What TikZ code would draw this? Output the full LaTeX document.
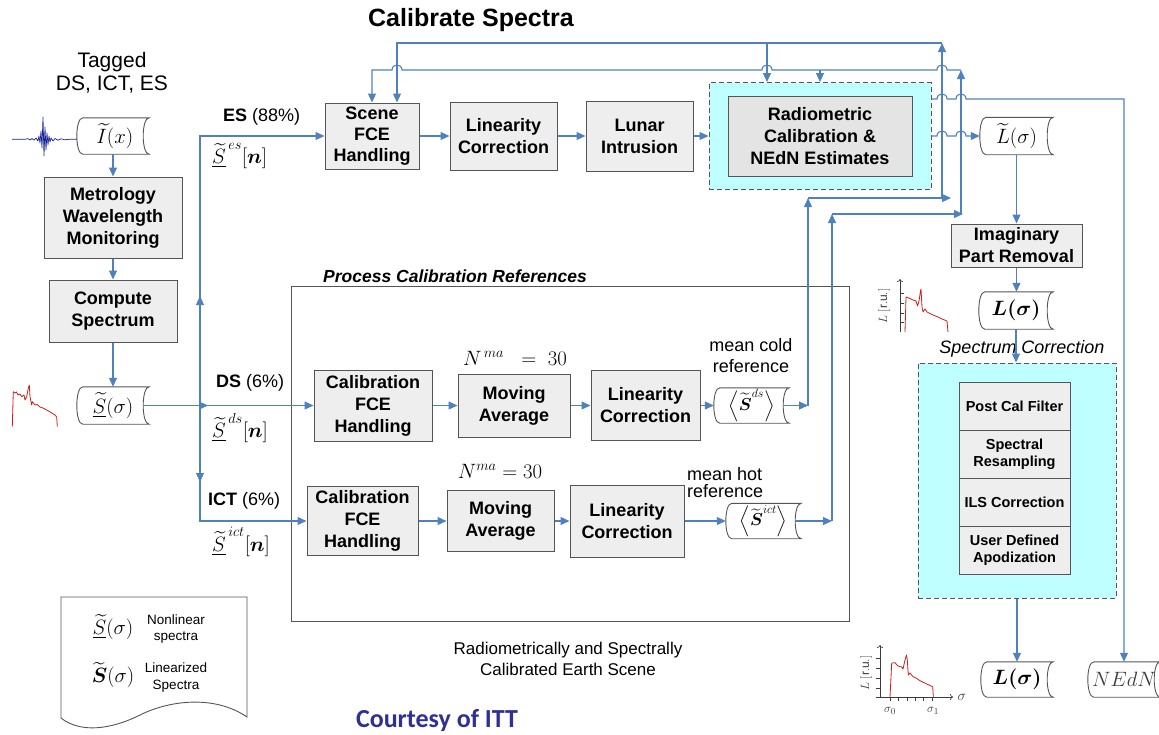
\documentclass[tikz,border=0pt]{standalone}
\usepackage{amsmath}
\usepackage{fontspec}
\setmainfont{Liberation Sans}
\newfontfamily\logofont{Carlito}
\usetikzlibrary{arrows.meta}

\definecolor{lineblue}{RGB}{79,129,189}
\definecolor{boxedge}{RGB}{85,85,85}
\definecolor{boxfill}{RGB}{238,238,238}
\definecolor{radfill}{RGB}{228,228,228}
\definecolor{cyanfill}{RGB}{192,255,255}
\definecolor{specred}{RGB}{205,30,30}
\definecolor{wavenavy}{RGB}{25,35,150}
\definecolor{ittblue}{RGB}{46,49,146}
\definecolor{axisgray}{RGB}{60,60,60}

% outline of a stored-data symbol around a named node:
% both short sides are arcs bowing to the left
\newcommand\docoutline[1]{%
  \draw[docline] ([xshift=6pt]#1.north west) -- (#1.north east)
    .. controls ([xshift=-8pt]#1.north east) and ([xshift=-8pt]#1.south east) .. (#1.south east)
    -- ([xshift=6pt]#1.south west)
    .. controls ([xshift=-2pt]#1.south west) and ([xshift=-2pt]#1.north west) .. ([xshift=6pt]#1.north west);}

\begin{document}
\begin{tikzpicture}[x=1pt,y=-1pt,
  conn/.style={draw=lineblue, line width=1.1pt},
  flow/.style={conn, -{Triangle[length=9pt,width=8pt]}},
  proc/.style={draw=boxedge, fill=boxfill, line width=1pt, align=center,
    inner sep=0pt, font=\bfseries\fontsize{18}{22}\selectfont},
  subproc/.style={proc, font=\bfseries\fontsize{14.5}{17}\selectfont,
    minimum width=111, minimum height=48},
  dashbox/.style={draw=boxedge, dash pattern=on 5pt off 3pt, fill=cyanfill,
    line width=1pt, inner sep=0pt},
  datadoc/.style={inner sep=0pt, minimum width=72, minimum height=36,
    font=\fontsize{21}{24}\selectfont},
  docline/.style={draw=boxedge, line width=0.9pt},
  txt/.style={font=\fontsize{18}{21}\selectfont, align=center, inner sep=0pt},
  specline/.style={draw=specred, line width=0.8pt, line join=round},
  plotaxis/.style={draw=axisgray, line width=0.7pt},
  axtip/.style={-{To[length=3pt,width=6pt]}},
]
\useasboundingbox (0,0) rectangle (1159,734);

% ---------- titles ----------
\node[font=\bfseries\fontsize{25}{30}\selectfont] (title) at (471,20) {Calibrate Spectra};
\node[txt, font=\fontsize{21}{23}\selectfont] (tagged) at (112,73) {Tagged\\DS, ICT, ES};

% ---------- left column ----------
\node[datadoc] (idoc) at (113,136) {\,$\widetilde{I}(x)$};
\docoutline{idoc}
\node[proc, minimum width=138, minimum height=81] (metro) at (113,217.5) {Metrology\\Wavelength\\Monitoring};
\node[proc, minimum width=128, minimum height=62] (compute) at (113,311) {Compute\\Spectrum};
\node[datadoc, minimum height=37] (sdoc) at (113,405.5) {$\underline{\widetilde{S}}(\sigma)$};
\docoutline{sdoc}

% interferogram trace
\draw[wavenavy, line width=0.7pt, line join=round] (12,139.3) -- (25,139.3) -- (28,138.6) -- (30,140) -- (32,138.5) -- (34,140.2) -- (36,138) -- (38,141) -- (39,136) -- (40,143) -- (41,131) -- (42,148) -- (43,117) -- (44,156) -- (45,127) -- (46,150) -- (47,133) -- (48,145) -- (49,136) -- (50,142) -- (51,138) -- (53,141) -- (55,138.5) -- (58,140.2) -- (61,138.8) -- (65,139.8) -- (70,139.2) -- (77,139.3);
% uncalibrated spectrum
\draw[specline] (12.3,426.7) -- (13.3,391.7) -- (15,393) -- (16.5,392) -- (18,395) -- (20,394) -- (21.7,396.7) -- (24,395) -- (25,400) -- (26.7,396.7) -- (28.3,388) -- (29.3,385) -- (30,396.7) -- (31.7,405) -- (32.3,401.7) -- (35,405) -- (37,404.5) -- (40,407) -- (43,408) -- (46.7,410) -- (51,412.5) -- (55,415) -- (56.7,417) -- (57.3,426.7);

% ---------- earth scene row ----------
\node[proc, font=\bfseries\fontsize{18}{21}\selectfont, minimum width=94, minimum height=66] (scene) at (372,136) {Scene\\FCE\\Handling};
\node[proc, minimum width=107, minimum height=68] (linA) at (503.5,136) {Linearity\\Correction};
\node[proc, minimum width=107, minimum height=70] (lunar) at (639.5,136) {Lunar\\Intrusion};
\node[dashbox, minimum width=222, minimum height=107] (raddash) at (820,136) {};
\node[proc, fill=radfill, minimum width=184, minimum height=80] (rad) at (820,136) {Radiometric\\Calibration \&\\NEdN Estimates};
\node[datadoc, minimum width=73, minimum height=37] (ltdoc) at (1016.5,136) {$\widetilde{L}(\sigma)$};
\docoutline{ltdoc}

\node[font=\fontsize{18}{21}\selectfont, anchor=west, inner sep=0pt] (eslab) at (223,117) {\textbf{ES} (88\%)};
\node[font=\fontsize{21}{24}\selectfont, anchor=west, inner sep=0pt] (essig) at (212,156) {$\underline{\widetilde{S}}^{\,es}[\boldsymbol{n}]$};

% ---------- calibration references ----------
\node[draw=boxedge, line width=1pt, minimum width=558, minimum height=335, inner sep=0pt] (procref) at (570,453.5) {};
\node[font=\bfseries\itshape\fontsize{17.5}{20}\selectfont, anchor=west, inner sep=0pt] (proctitle) at (323,276) {Process Calibration References};

\node[proc, minimum width=118, minimum height=71] (calA) at (373,405.5) {Calibration\\FCE\\Handling};
\node[proc, minimum width=112, minimum height=63] (maA) at (514,405.5) {Moving\\Average};
\node[proc, minimum width=109, minimum height=70] (linB) at (645.5,405.5) {Linearity\\Correction};
\node[datadoc, minimum width=75, minimum height=35, font=\fontsize{18}{22}\selectfont] (dsdoc) at (751.5,405.5) {$\left\langle\widetilde{\boldsymbol{S}}^{ds}\right\rangle$};
\docoutline{dsdoc}

\node[proc, minimum width=111, minimum height=69] (calB) at (362.5,521) {Calibration\\FCE\\Handling};
\node[proc, minimum width=107, minimum height=61] (maB) at (500.5,521) {Moving\\Average};
\node[proc, minimum width=114, minimum height=72] (linC) at (627,521) {Linearity\\Correction};
\node[datadoc, minimum width=75, minimum height=35, font=\fontsize{18}{22}\selectfont] (ictdoc) at (763.5,521) {$\left\langle\widetilde{\boldsymbol{S}}^{ict}\right\rangle$};
\docoutline{ictdoc}

\node[font=\fontsize{21}{24}\selectfont] (nmaA) at (515,358) {$N^{\,ma}\;\;=\;30$};
\node[font=\fontsize{21}{24}\selectfont] (nmaB) at (500,471) {$N^{ma}=30$};
\node[txt] (coldlab) at (751,356) {mean cold\\reference};
\node[txt, font=\fontsize{18}{17}\selectfont, align=left, anchor=west] (hotlab) at (687,483) {mean hot\\reference};

\node[font=\fontsize{18}{21}\selectfont, anchor=west, inner sep=0pt] (dslab) at (216,383) {\textbf{DS} (6\%)};
\node[font=\fontsize{21}{24}\selectfont, anchor=west, inner sep=0pt] (dssig) at (212,428) {$\underline{\widetilde{S}}^{\,ds}[\boldsymbol{n}]$};
\node[font=\fontsize{18}{21}\selectfont, anchor=west, inner sep=0pt] (ictlab) at (208,501) {\textbf{ICT} (6\%)};
\node[font=\fontsize{21}{24}\selectfont, anchor=west, inner sep=0pt] (ictsig) at (212,542) {$\underline{\widetilde{S}}^{\,ict}[\boldsymbol{n}]$};

% ---------- right column ----------
\node[proc, minimum width=131, minimum height=43] (imag) at (1016.5,245.5) {Imaginary\\Part Removal};
\node[datadoc, minimum width=74, minimum height=37] (ldoc) at (1016,310.5) {$\boldsymbol{L(\sigma)}$};
\docoutline{ldoc}
\node[font=\itshape\fontsize{18}{21}\selectfont] (sctitle) at (1022,349) {Spectrum Correction};
\node[dashbox, minimum width=198, minimum height=235] (scdash) at (1017,480.5) {};
\node[subproc] (pcf) at (1014.5,406) {Post Cal Filter};
\node[subproc] (resamp) at (1014.5,454) {Spectral\\Resampling};
\node[subproc] (ils) at (1014.5,502) {ILS Correction};
\node[subproc] (apod) at (1014.5,550) {User Defined\\Apodization};
\node[datadoc, minimum height=35] (lbdoc) at (1017,679.5) {$\boldsymbol{L(\sigma)}$};
\docoutline{lbdoc}
\node[datadoc, minimum height=35] (nedn) at (1124,679.5) {\color{axisgray}$NEdN$};
\docoutline{nedn}

% calibrated spectrum sketch beside L(sigma)
\draw[plotaxis, axtip] (900,332) -- (900,279);
\foreach \yy in {293,303,313,322} \draw[plotaxis] (900,\yy) -- (904,\yy);
\draw[specline] (905,332) -- (906,297) -- (910,298.5) -- (913,300) -- (916,301) -- (917.5,306) -- (919,301) -- (920.5,291) -- (921,289) -- (922,307) -- (923,312) -- (925,309) -- (927,312) -- (930,313.5) -- (933,315) -- (938,317) -- (942,319) -- (947,321) -- (948,332);
\node[rotate=90, font=\fontsize{12}{14}\selectfont, text=axisgray] (laxA) at (884,306) {$L\ [\mathrm{r.u.}]$};

% calibrated spectrum sketch with band limits
\draw[plotaxis, axtip] (880,697) -- (880,645);
\draw[plotaxis, axtip] (876,697) -- (953,697);
\foreach \yy in {658,668,678,688} \draw[plotaxis] (876,\yy) -- (880,\yy);
\foreach \xx in {890,898,907,915,923,932} \draw[plotaxis] (\xx,697) -- (\xx,701);
\draw[specline] (890,697) -- (891.7,663) -- (895,662.7) -- (898,666) -- (901.7,667) -- (903,669) -- (905,660) -- (906.5,655) -- (907.3,660) -- (908.3,675) -- (910,673) -- (913,676.7) -- (916,678) -- (920,680.7) -- (926.7,684) -- (932.7,686.7) -- (933.3,697);
\node[rotate=90, font=\fontsize{12}{14}\selectfont, text=axisgray] (laxB) at (866,673) {$L\ [\mathrm{r.u.}]$};
\node[font=\fontsize{14}{16}\selectfont, text=axisgray] (sigx) at (962,697) {$\sigma$};
\node[font=\fontsize{13}{15}\selectfont, text=axisgray] (sig0) at (890,711) {$\sigma_0$};
\node[font=\fontsize{13}{15}\selectfont, text=axisgray] (sig1) at (933,711) {$\sigma_1$};

% ---------- legend ----------
\draw[docline] (61,597) -- (247,597) -- (247,717) .. controls (215,695) and (170,700) .. (140,715) .. controls (110,730) and (80,733) .. (61,718) -- cycle;
\node[font=\fontsize{21}{24}\selectfont] (legA) at (113,627) {$\underline{\widetilde{S}}(\sigma)$};
\node[txt, font=\fontsize{13.5}{16}\selectfont] (legAt) at (176,629) {Nonlinear\\spectra};
\node[font=\fontsize{21}{24}\selectfont] (legB) at (113,675) {$\widetilde{\boldsymbol{S}}(\sigma)$};
\node[txt, font=\fontsize{13.5}{17}\selectfont] (legBt) at (176,677) {Linearized\\Spectra};

\node[txt, font=\fontsize{17}{21}\selectfont] (outlab) at (568,659) {Radiometrically and Spectrally\\Calibrated Earth Scene};
\node[font=\logofont\bfseries\fontsize{26}{30}\selectfont, text=ittblue] (itt) at (437,720) {Courtesy of ITT};

% ---------- connectors ----------
\draw[flow] (idoc.south) -- (metro.north);
\draw[flow] (metro.south) -- (compute.north);
\draw[flow] (compute.south) -- (sdoc.north);

\coordinate (split) at (200,405.5);
\coordinate (esturn) at (200,136);
\coordinate (ictturn) at (200,521);
\draw[flow] ([xshift=-6pt]sdoc.east) -- (208,405.5);
\draw[flow] (split) -- (calA.west);
\draw[flow] (split) -- (200,296);
\draw[flow] (200,300) -- (esturn) -- (scene.west);
\draw[flow] (split) -- (200,482);
\draw[flow] (200,478) -- (ictturn) -- (calB.west);

\draw[flow] (scene) -- (linA);
\draw[flow] (linA) -- (lunar);
\draw[flow] (lunar) -- (raddash);

\draw[flow] (calA) -- (maA);
\draw[flow] (maA) -- (linB);
\draw[flow] (linB) -- (dsdoc);
\draw[flow] (calB) -- (maB);
\draw[flow] (maB) -- (linC);
\draw[flow] (linC) -- (ictdoc);

% mean cold reference feedback
\coordinate (coldA) at (808,405.5);
\coordinate (coldB) at (808,198);
\coordinate (coldC) at (942,198);
\coordinate (coldD) at (942,43);
\draw[flow] ([xshift=-6pt]dsdoc.east) -- (coldA);
\draw[flow] (coldA) -- (coldB);
\draw[flow] (coldB) -- (951,198);
\draw[flow] (coldC) -- (coldD);
\draw[flow] (coldD) -- (397,43) -- (397,0 |- scene.north);
\draw[flow] (767,43) -- (767,0 |- raddash.north);

% mean hot reference feedback
\coordinate (hotA) at (832,521);
\coordinate (hotB) at (832,214);
\coordinate (hotC) at (961,214);
\coordinate (hotD) at (961,70);
\draw[flow] ([xshift=-6pt]ictdoc.east) -- (hotA);
\draw[flow] (hotA) -- (hotB);
\draw[flow] (hotB) -- (963,214);
\draw[flow] (hotC) -- (hotD);
\draw[flow] (hotD) -- (947,70) .. controls (947,63.3) and (937,63.3) .. (937,70)
  -- (772,70) .. controls (772,63.3) and (762,63.3) .. (762,70)
  -- (402,70) .. controls (402,63.3) and (392,63.3) .. (392,70)
  -- (372,70) -- (scene.north);
\draw[flow] (820,70) -- (820,0 |- raddash.north);

% calibrated outputs
\draw[flow] (raddash.east |- 0,99) -- (937,99) .. controls (937,92.3) and (947,92.3) .. (947,99)
  -- (956,99) .. controls (956,92.3) and (966,92.3) .. (966,99)
  -- (1124,99) -- (nedn.north);
\draw[flow] (raddash.east) -- (937,136) .. controls (937,129.3) and (947,129.3) .. (947,136)
  -- (956,136) .. controls (956,129.3) and (966,129.3) .. (966,136)
  -- (ltdoc.west);

\draw[flow] (ltdoc.south) -- (imag.north);
\draw[flow] (imag.south) -- (imag.south |- ldoc.north);
\draw[flow] (ldoc.south) -- (ldoc.south |- scdash.north);
\draw[flow] (scdash.south) -- (scdash.south |- lbdoc.north);
\end{tikzpicture}
\end{document}
